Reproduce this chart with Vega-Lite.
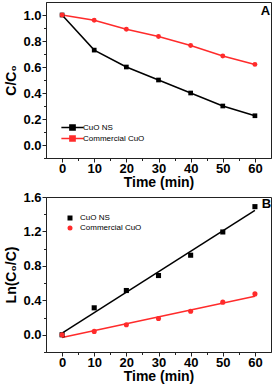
{
  "$schema": "https://vega.github.io/schema/vega-lite/v6.json",
  "padding": {"left": 4, "top": 1, "right": 1, "bottom": 0},
  "spacing": 0,
  "datasets": {
    "top": [
      {"t": 0, "v": 1.0, "s": "CuO NS"},
      {"t": 10, "v": 0.73, "s": "CuO NS"},
      {"t": 20, "v": 0.6, "s": "CuO NS"},
      {"t": 30, "v": 0.5, "s": "CuO NS"},
      {"t": 40, "v": 0.4, "s": "CuO NS"},
      {"t": 50, "v": 0.3, "s": "CuO NS"},
      {"t": 60, "v": 0.225, "s": "CuO NS"},
      {"t": 0, "v": 1.0, "s": "Commercial CuO"},
      {"t": 10, "v": 0.96, "s": "Commercial CuO"},
      {"t": 20, "v": 0.89, "s": "Commercial CuO"},
      {"t": 30, "v": 0.835, "s": "Commercial CuO"},
      {"t": 40, "v": 0.765, "s": "Commercial CuO"},
      {"t": 50, "v": 0.685, "s": "Commercial CuO"},
      {"t": 60, "v": 0.62, "s": "Commercial CuO"}
    ],
    "pts": [
      {"t": 0, "v": 0.0, "s": "CuO NS"},
      {"t": 10, "v": 0.313, "s": "CuO NS"},
      {"t": 20, "v": 0.514, "s": "CuO NS"},
      {"t": 30, "v": 0.688, "s": "CuO NS"},
      {"t": 40, "v": 0.924, "s": "CuO NS"},
      {"t": 50, "v": 1.194, "s": "CuO NS"},
      {"t": 60, "v": 1.488, "s": "CuO NS"},
      {"t": 0, "v": 0.0, "s": "Commercial CuO"},
      {"t": 10, "v": 0.039, "s": "Commercial CuO"},
      {"t": 20, "v": 0.116, "s": "Commercial CuO"},
      {"t": 30, "v": 0.189, "s": "Commercial CuO"},
      {"t": 40, "v": 0.274, "s": "Commercial CuO"},
      {"t": 50, "v": 0.379, "s": "Commercial CuO"},
      {"t": 60, "v": 0.475, "s": "Commercial CuO"}
    ],
    "fit": [
      {"t": 0, "v": 0.019, "s": "CuO NS"},
      {"t": 60, "v": 1.445, "s": "CuO NS"},
      {"t": 0, "v": -0.031, "s": "Commercial CuO"},
      {"t": 60, "v": 0.448, "s": "Commercial CuO"}
    ]
  },
  "vconcat": [
    {
      "width": 225,
      "height": 156,
      "layer": [
        {
          "data": {"name": "top"},
          "mark": {"type": "point", "opacity": 0},
          "encoding": {
            "x": {"field": "t", "type": "quantitative", "scale": {"domain": [-5, 65], "nice": false}, "axis": {"orient": "bottom", "values": [5, 15, 25, 35, 45, 55], "labels": false, "domain": false, "title": null, "tickSize": 2.5}},
            "y": {"field": "v", "type": "quantitative", "scale": {"domain": [-0.1, 1.1], "nice": false}, "axis": {"orient": "left", "values": [-0.1, 0.1, 0.3, 0.5, 0.7, 0.9], "labels": false, "domain": false, "title": null, "tickSize": 2.5}}
          }
        },
        {
          "data": {"name": "top"},
          "mark": {"type": "line", "strokeWidth": 1.5},
          "encoding": {
            "x": {"field": "t", "type": "quantitative", "scale": {"domain": [-5, 65], "nice": false}, "axis": {"orient": "bottom", "values": [0, 10, 20, 30, 40, 50, 60], "labelOverlap": false, "title": "Time (min)", "tickSize": 4, "labelPadding": 0, "titlePadding": 0}},
            "y": {"field": "v", "type": "quantitative", "scale": {"domain": [-0.1, 1.1], "nice": false}, "axis": {"orient": "left", "values": [0, 0.2, 0.4, 0.6, 0.8, 1.0], "labelOverlap": false, "format": ".1f", "title": "C/C₀", "tickSize": 4, "labelPadding": 1, "titlePadding": 4}},
            "color": {"field": "s", "type": "nominal", "scale": {"domain": ["CuO NS", "Commercial CuO"], "range": ["#000000", "#ff2b2b"]},
              "legend": {"title": null, "orient": "none", "legendX": 22, "legendY": 121, "direction": "vertical", "symbolType": "M-3,0H3M-0.7,-0.7H0.7V0.7H-0.7ZM-0.7,-0.35H0.7M-0.7,0.35H0.7", "symbolSize": 55, "symbolStrokeWidth": 1.5, "labelFontSize": 8, "labelFont": "Liberation Sans", "labelFontWeight": "normal", "rowPadding": -2, "labelOffset": 6}}
          }
        },
        {
          "data": {"name": "top"},
          "transform": [{"filter": "datum.s === 'CuO NS'"}],
          "mark": {"type": "point", "filled": true, "opacity": 1, "shape": "square", "color": "#000000", "size": 22},
          "encoding": {
            "x": {"field": "t", "type": "quantitative", "axis": null},
            "y": {"field": "v", "type": "quantitative", "axis": null}
          }
        },
        {
          "data": {"name": "top"},
          "transform": [{"filter": "datum.s === 'Commercial CuO'"}],
          "mark": {"type": "point", "filled": true, "opacity": 1, "shape": "circle", "color": "#ff2b2b", "size": 24},
          "encoding": {
            "x": {"field": "t", "type": "quantitative", "axis": null},
            "y": {"field": "v", "type": "quantitative", "axis": null}
          }
        },
        {
          "data": {"values": [{"t": 63.3, "v": 1.03, "lab": "A"}]},
          "mark": {"type": "text", "fontWeight": "bold", "fontSize": 13, "font": "Liberation Sans"},
          "encoding": {
            "x": {"field": "t", "type": "quantitative", "axis": null},
            "y": {"field": "v", "type": "quantitative", "axis": null},
            "text": {"field": "lab"}
          }
        }
      ],
      "resolve": {"axis": {"x": "independent", "y": "independent"}}
    },
    {
      "width": 225,
      "height": 155,
      "layer": [
        {
          "data": {"name": "fit"},
          "mark": {"type": "point", "opacity": 0},
          "encoding": {
            "x": {"field": "t", "type": "quantitative", "scale": {"domain": [-5, 65], "nice": false}, "axis": {"orient": "bottom", "values": [5, 15, 25, 35, 45, 55], "labels": false, "domain": false, "title": null, "tickSize": 2.5}},
            "y": {"field": "v", "type": "quantitative", "scale": {"domain": [-0.2, 1.6], "nice": false}, "axis": {"orient": "left", "values": [-0.2, 0.2, 0.6, 1.0, 1.4], "labels": false, "domain": false, "title": null, "tickSize": 2.5}}
          }
        },
        {
          "data": {"name": "fit"},
          "mark": {"type": "line", "strokeWidth": 1.5},
          "encoding": {
            "x": {"field": "t", "type": "quantitative", "scale": {"domain": [-5, 65], "nice": false}, "axis": {"orient": "bottom", "values": [0, 10, 20, 30, 40, 50, 60], "labelOverlap": false, "title": "Time (min)", "tickSize": 4, "labelPadding": 0, "titlePadding": 0}},
            "y": {"field": "v", "type": "quantitative", "scale": {"domain": [-0.2, 1.6], "nice": false}, "axis": {"orient": "left", "values": [0, 0.4, 0.8, 1.2, 1.6], "labelOverlap": false, "format": ".1f", "title": "Ln(C₀/C)", "tickSize": 4, "labelPadding": 1, "titlePadding": 4}},
            "color": {"field": "s", "type": "nominal", "scale": {"domain": ["CuO NS", "Commercial CuO"], "range": ["#000000", "#ff2b2b"]}, "legend": null},
            "detail": {"field": "s"}
          }
        },
        {
          "data": {"name": "pts"},
          "mark": {"type": "point", "filled": true, "opacity": 1},
          "encoding": {
            "x": {"field": "t", "type": "quantitative", "axis": null},
            "y": {"field": "v", "type": "quantitative", "axis": null},
            "color": {"field": "s", "type": "nominal", "scale": {"domain": ["CuO NS", "Commercial CuO"], "range": ["#000000", "#ff2b2b"]},
              "legend": {"title": null, "orient": "none", "legendX": 20, "legendY": 17, "direction": "vertical", "symbolSize": 25, "labelFontSize": 8, "labelFont": "Liberation Sans", "labelFontWeight": "normal", "rowPadding": 2, "labelOffset": 6}},
            "shape": {"field": "s", "type": "nominal", "scale": {"domain": ["CuO NS", "Commercial CuO"], "range": ["square", "circle"]}, "legend": {"title": null, "orient": "none", "legendX": 20, "legendY": 17, "direction": "vertical", "symbolSize": 25, "labelFontSize": 8, "labelFont": "Liberation Sans", "labelFontWeight": "normal", "rowPadding": 2, "labelOffset": 6}},
            "size": {"value": 26}
          }
        },
        {
          "data": {"values": [{"t": 63.6, "v": 1.52, "lab": "B"}]},
          "mark": {"type": "text", "fontWeight": "bold", "fontSize": 13, "font": "Liberation Sans"},
          "encoding": {
            "x": {"field": "t", "type": "quantitative", "axis": null},
            "y": {"field": "v", "type": "quantitative", "axis": null},
            "text": {"field": "lab"}
          }
        }
      ],
      "resolve": {"scale": {"color": "independent", "shape": "independent"}, "axis": {"x": "independent", "y": "independent"}}
    }
  ],
  "resolve": {"scale": {"color": "independent", "shape": "independent"}, "legend": {"color": "independent", "shape": "independent"}},
  "config": {
    "font": "Liberation Sans",
    "view": {"stroke": "#222222", "strokeWidth": 1},
    "axis": {"grid": false, "labelOverlap": false, "labelFlush": false, "domainColor": "#222222", "tickColor": "#222222", "labelFont": "Liberation Sans", "labelFontWeight": "bold", "labelFontSize": 13, "labelColor": "#000000", "titleFont": "Liberation Sans", "titleFontWeight": "bold", "titleFontSize": 14, "titleColor": "#000000"},
    "legend": {"labelColor": "#000000"}
  }
}
